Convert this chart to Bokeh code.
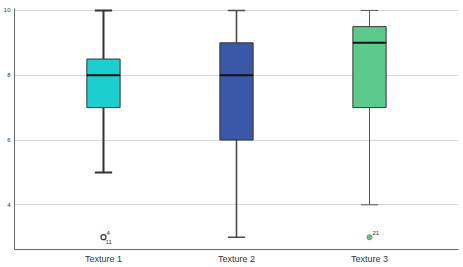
from bokeh.plotting import figure
from bokeh.models import ColumnDataSource, Range1d, FixedTicker
from bokeh.core.properties import value
from bokeh.embed import file_html
from bokeh.resources import INLINE

categories = ["Texture 1", "Texture 2", "Texture 3"]
mins = [5, 3, 4]
q1s = [7, 6, 7]
medians = [8, 8, 9]
q3s = [8.5, 9, 9.5]
maxs = [10, 10, 10]
outlier_cat = [1, 3]
outlier_val = [3, 3]
outlier_labels_top = ["4", "21"]
outlier_labels_bottom = ["11", ""]
y_ticks = [4, 6, 8, 10]

box_colors = ["#1ccfcf", "#3b58a8", "#5bca8a"]
whisker_widths = [2, 1.6, 1]
whisker_colors = ["#333333", "#4a4a4a", "#555555"]

xs = [i + 1 for i in range(len(categories))]
bw = 0.25
cw = 0.13

src = ColumnDataSource(dict(
    x=xs, mn=mins, q1=q1s, med=medians, q3=q3s, mx=maxs,
    x0=[x - bw / 2 for x in xs], x1=[x + bw / 2 for x in xs],
    c0=[x - cw / 2 for x in xs], c1=[x + cw / 2 for x in xs],
    color=box_colors, lw=whisker_widths, lc=whisker_colors,
))

p = figure(width=463, height=267, output_backend="svg", toolbar_location=None,
           x_range=Range1d(0.331, 3.669), y_range=Range1d(2.62, 10.06),
           min_border_left=14, min_border_right=5, min_border_top=8, min_border_bottom=18)
p.outline_line_color = None
p.background_fill_color = "white"

# whiskers
p.segment(x0="x", y0="q3", x1="x", y1="mx", source=src, line_color="lc", line_width="lw")
p.segment(x0="x", y0="mn", x1="x", y1="q1", source=src, line_color="lc", line_width="lw")
p.segment(x0="c0", y0="mx", x1="c1", y1="mx", source=src, line_color="lc", line_width="lw")
p.segment(x0="c0", y0="mn", x1="c1", y1="mn", source=src, line_color="lc", line_width="lw")
# boxes
p.quad(left="x0", right="x1", bottom="q1", top="q3", source=src,
       fill_color="color", line_color="#333333", line_width=1)
p.segment(x0="x0", y0="med", x1="x1", y1="med", source=src, line_color="#111111", line_width=2)

# outliers
p.scatter([outlier_cat[0]], [outlier_val[0]], size=5, fill_color="white",
          line_color="#333333", line_width=1.2)
p.scatter([outlier_cat[1]], [outlier_val[1]], size=5, fill_color=box_colors[2],
          line_color="#4a8a66", line_width=0.8)
p.text(x=outlier_cat, y=outlier_val, text=outlier_labels_top, x_offset=3, y_offset=-2,
       text_font=value("Liberation Sans"), text_font_size="6px", text_color="#333333",
       text_baseline="bottom", text_align="left")
p.text(x=outlier_cat, y=outlier_val, text=outlier_labels_bottom, x_offset=2, y_offset=3,
       text_font=value("Liberation Sans"), text_font_size="6px", text_color="#333333",
       text_baseline="top", text_align="left")

# axes
p.xaxis.ticker = FixedTicker(ticks=xs)
p.xaxis.major_label_overrides = {x: c for x, c in zip(xs, categories)}
p.xaxis.major_label_text_font = "Liberation Sans"
p.xaxis.major_label_text_font_size = "9px"
p.xaxis.major_label_text_color = "#333333"
p.xaxis.major_label_standoff = 4
p.xaxis.major_tick_out = 0
p.xaxis.major_tick_in = 0
p.xaxis.minor_tick_out = 0
p.xaxis.minor_tick_in = 0
p.xaxis.major_tick_line_color = None
p.xaxis.minor_tick_line_color = None
p.xaxis.axis_line_color = "#666666"

p.yaxis.ticker = FixedTicker(ticks=y_ticks)
p.yaxis.major_label_text_font = "Liberation Sans"
p.yaxis.major_label_text_font_size = "6px"
p.yaxis.major_label_text_color = "#333333"
p.yaxis.major_label_standoff = 4
p.yaxis.major_tick_out = 0
p.yaxis.major_tick_in = 0
p.yaxis.minor_tick_out = 0
p.yaxis.minor_tick_in = 0
p.yaxis.major_tick_line_color = None
p.yaxis.minor_tick_line_color = None
p.yaxis.axis_line_color = "#666666"

p.xgrid.grid_line_color = None
p.ygrid.grid_line_color = "#d4d4d4"
p.ygrid.grid_line_width = 1.2

open("out.html", "w").write(file_html(p, INLINE))
